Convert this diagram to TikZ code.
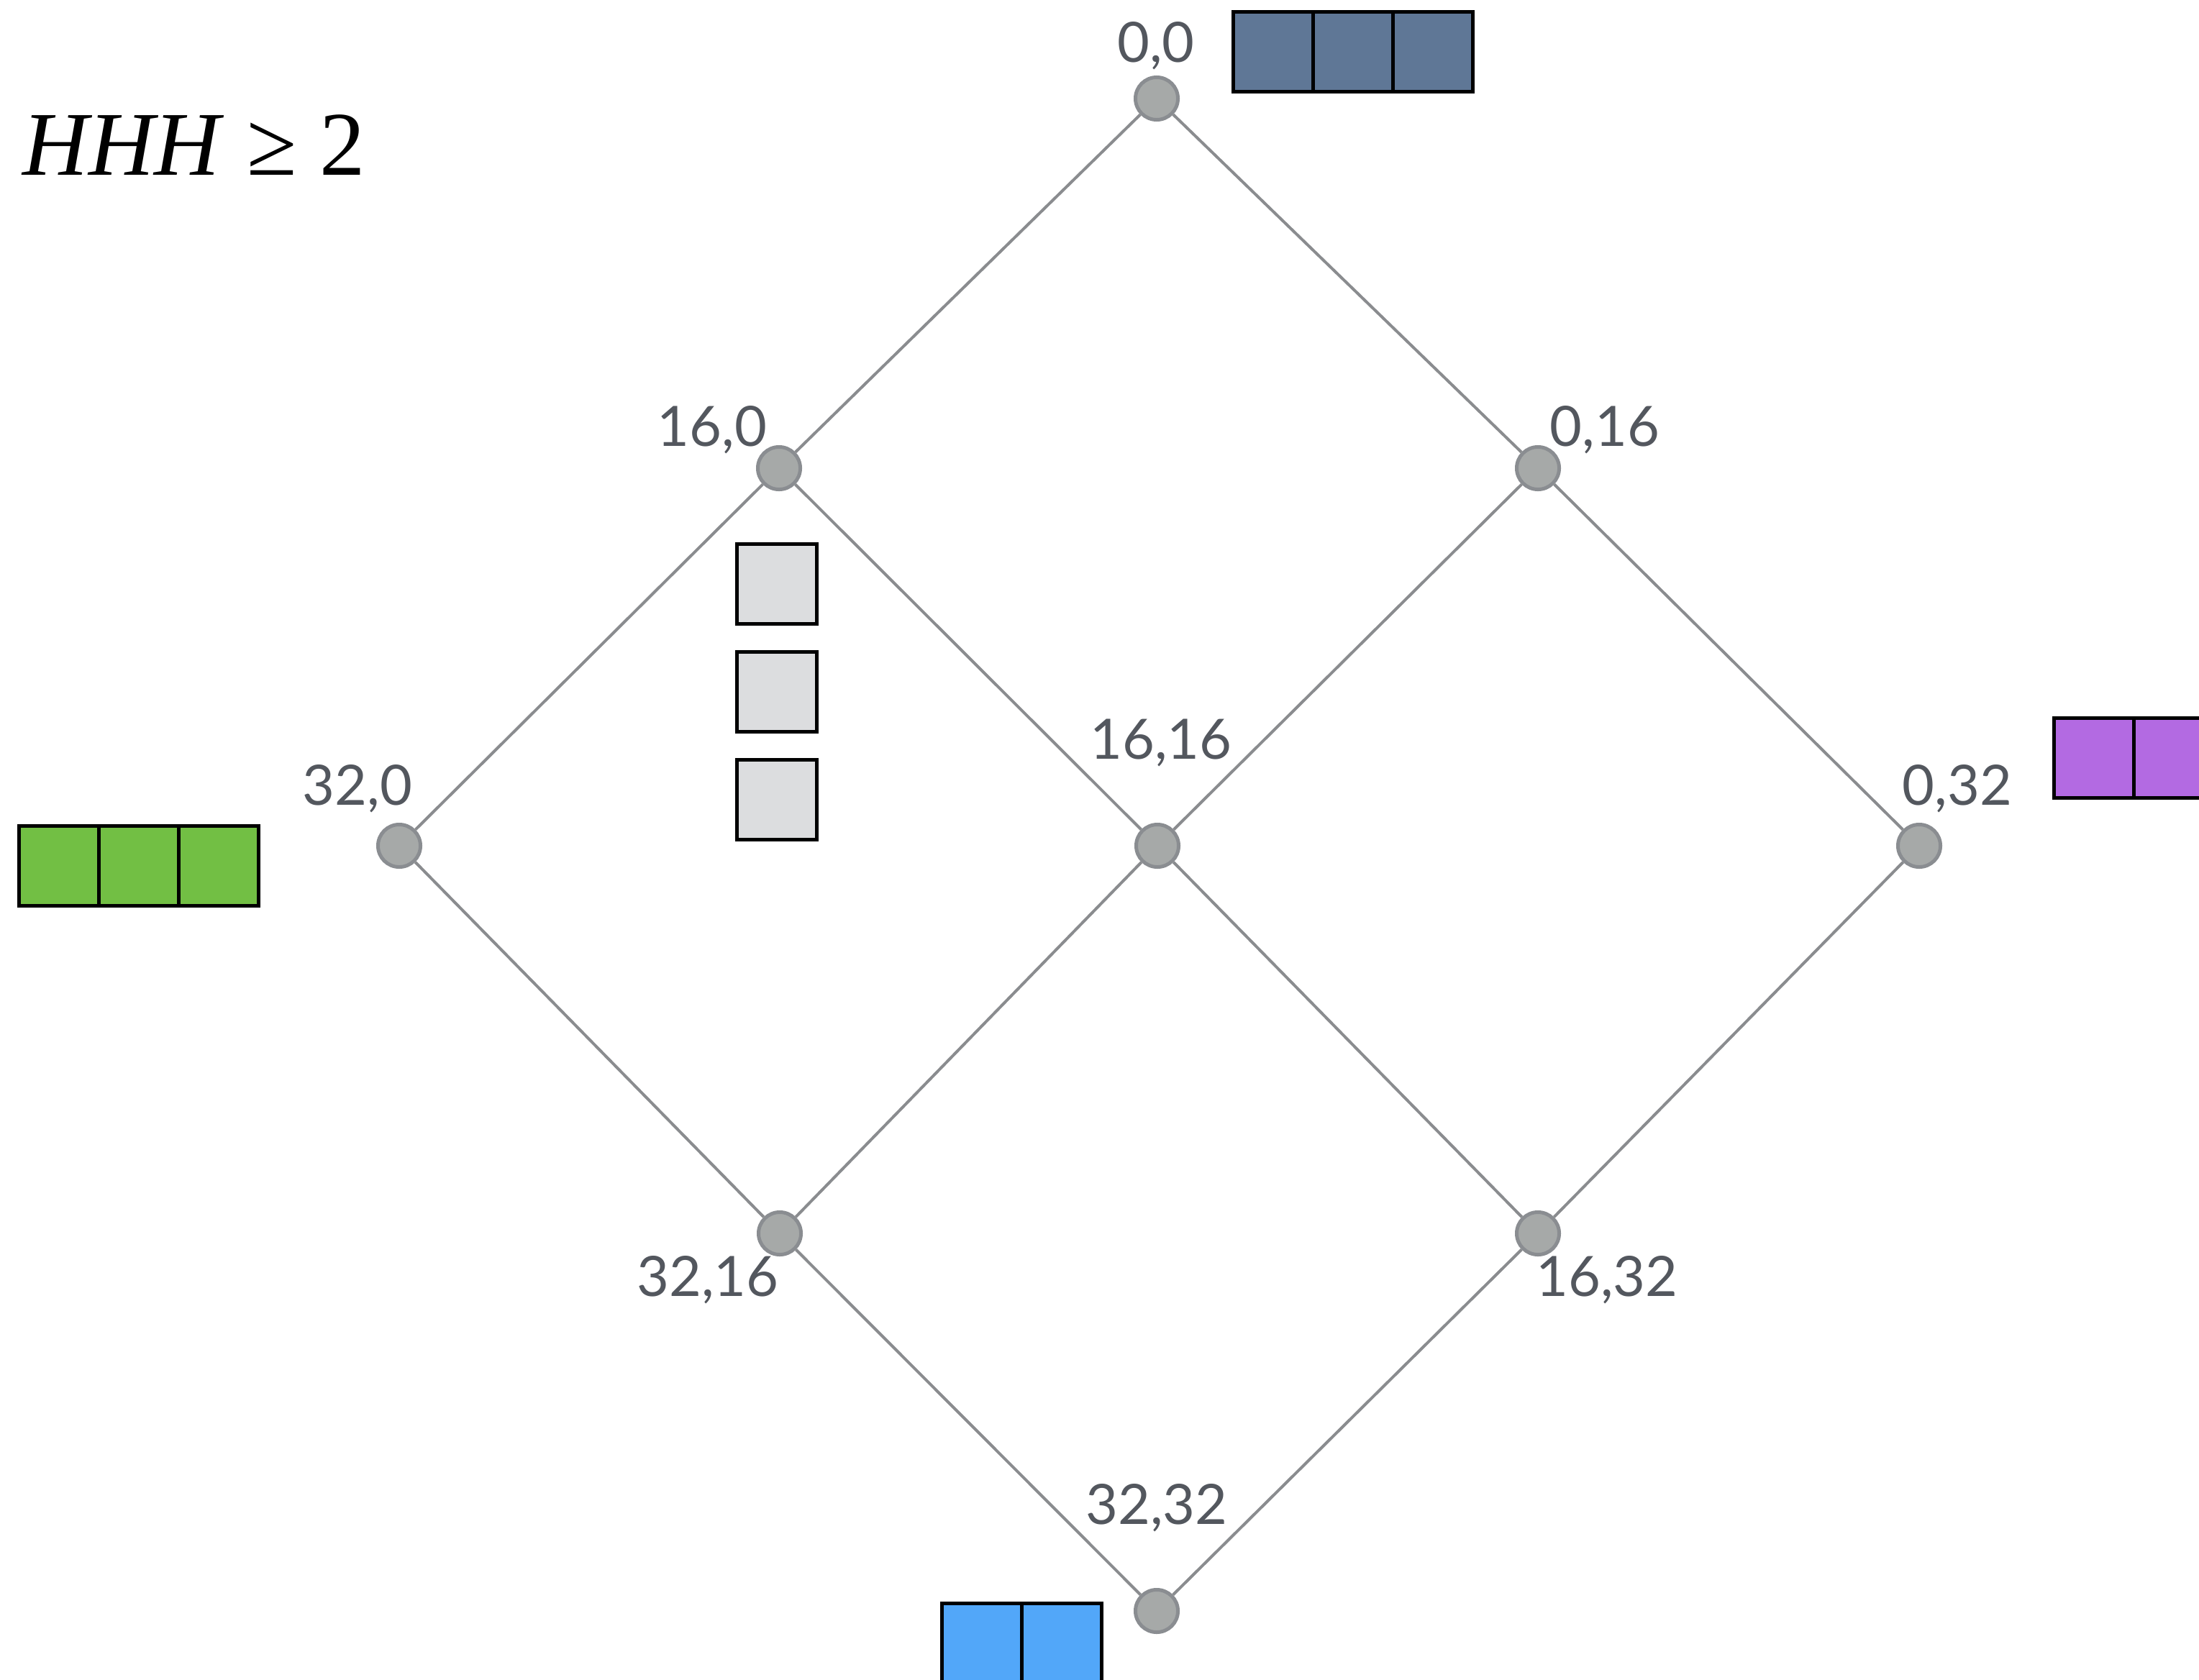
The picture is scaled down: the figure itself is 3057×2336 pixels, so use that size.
\documentclass[tikz,border=0pt]{standalone}
\usepackage{fontspec}
\setmainfont{Lato}
\newfontfamily\timesfont{Liberation Serif}
\definecolor{nodefill}{HTML}{A6A9A8}
\definecolor{nodeedge}{HTML}{8A8D91}
\definecolor{edgecol}{HTML}{8A8C8F}
\definecolor{labcol}{HTML}{53575E}
\definecolor{slateblue}{HTML}{5F7796}
\definecolor{greenbox}{HTML}{72BF44}
\definecolor{purplebox}{HTML}{B36AE2}
\definecolor{bluebox}{HTML}{52A7F9}
\definecolor{greybox}{HTML}{DCDDDF}
\tikzset{
  vert/.style={circle, fill=nodefill, draw=nodeedge, line width=0.05cm, minimum size=0.59cm, inner sep=0pt},
  conn/.style={draw=edgecol, line width=0.04cm},
  lab/.style={anchor=base, text=labcol, font=\fontsize{22}{26}\selectfont, inner sep=0pt},
  cell/.style={draw=black, line width=0.05cm, minimum size=1.11cm, inner sep=0pt}
}
\begin{document}
\begin{tikzpicture}[x=0.01cm, y=-0.01cm]
\useasboundingbox (0,0) rectangle (3057,2336);
\clip (0,0) rectangle (3057,2336);
\fill[white] (0,0) rectangle (3057,2336);

% title
\node[anchor=base west, inner sep=0pt, font=\timesfont\fontsize{36}{40}\selectfont] (title) at (31,243) {\itshape HHH\/ \upshape ≥ 2};

% vertices
\node[vert] (n00) at (1608,137) {};
\node[vert] (n160) at (1083,651) {};
\node[vert] (n016) at (2138,651) {};
\node[vert] (n320) at (555,1176) {};
\node[vert] (n1616) at (1609,1176) {};
\node[vert] (n032) at (2668,1176) {};
\node[vert] (n3216) at (1084,1715) {};
\node[vert] (n1632) at (2138,1715) {};
\node[vert] (n3232) at (1608,2240) {};

% connectors
\draw[conn] (n00) -- (n160);
\draw[conn] (n00) -- (n016);
\draw[conn] (n160) -- (n320);
\draw[conn] (n160) -- (n1616);
\draw[conn] (n016) -- (n1616);
\draw[conn] (n016) -- (n032);
\draw[conn] (n320) -- (n3216);
\draw[conn] (n1616) -- (n3216);
\draw[conn] (n1616) -- (n1632);
\draw[conn] (n032) -- (n1632);
\draw[conn] (n3216) -- (n3232);
\draw[conn] (n1632) -- (n3232);

% labels
\node[lab] (l00) at (1607,87) {0,0};
\node[lab] (l160) at (990,620) {16,0};
\node[lab] (l016) at (2231,620) {0,16};
\node[lab] (l320) at (497,1119) {32,0};
\node[lab] (l1616) at (1614,1055) {16,16};
\node[lab] (l032) at (2721,1119) {0,32};
\node[lab] (l3216) at (984,1802) {32,16};
\node[lab] (l1632) at (2234,1802) {16,32};
\node[lab] (l3232) at (1608,2119) {32,32};

% top slate boxes
\node[cell, fill=slateblue] (t1) at (1770,72) {};
\node[cell, fill=slateblue] (t2) at (1881,72) {};
\node[cell, fill=slateblue] (t3) at (1992,72) {};

% grey boxes
\node[cell, fill=greybox] (g1) at (1080,812) {};
\node[cell, fill=greybox] (g2) at (1080,962) {};
\node[cell, fill=greybox] (g3) at (1080,1112) {};

% green boxes
\node[cell, fill=greenbox] (gr1) at (82,1204) {};
\node[cell, fill=greenbox] (gr2) at (193,1204) {};
\node[cell, fill=greenbox] (gr3) at (304,1204) {};

% purple boxes
\node[cell, fill=purplebox] (p1) at (2911,1054) {};
\node[cell, fill=purplebox] (p2) at (3022,1054) {};

% blue boxes
\node[cell, fill=bluebox] (b1) at (1365,2285) {};
\node[cell, fill=bluebox] (b2) at (1476,2285) {};
\end{tikzpicture}
\end{document}
